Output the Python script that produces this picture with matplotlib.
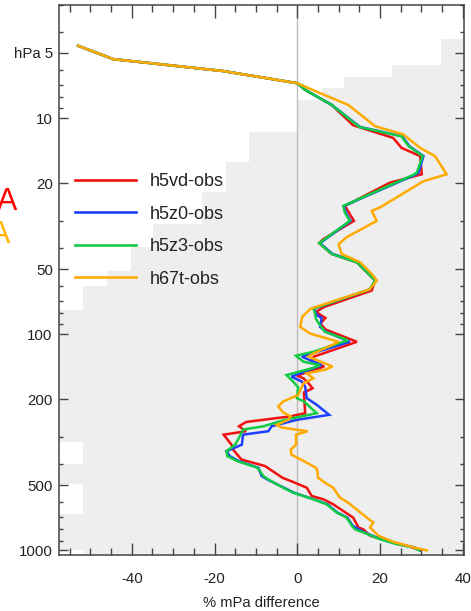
import numpy as np
import matplotlib
matplotlib.use("Agg")
import matplotlib.pyplot as plt
from matplotlib.ticker import FixedLocator, FixedFormatter, LogLocator, NullFormatter, MultipleLocator

plt.rcParams["font.family"] = ["Liberation Sans", "DejaVu Sans"]
plt.rcParams["axes.unicode_minus"] = False

# ---- profile data: pressure (hPa) and percent difference ----
top_p = [4.63, 5.34, 6.06, 6.9]
top_dx = [-53.0, -44.5, -18.0, 0.0]

h5vd_p = [7.41, 8.69, 10.8, 12.36, 13.74, 15.0, 18.2, 19.9, 25.5, 29.9, 36.3, 37.9,
          42.5, 46.5, 52.6, 56.4, 62.8, 74.8, 78.9, 84.1, 89.3, 95.0, 108.4, 127.0,
          133.0, 141.0, 155.4, 159.9, 168.6, 177.8, 186.0, 231.9, 240.0, 254.7, 266.6,
          281.0, 291.5, 324.3, 342.0, 380.0, 407.0, 461.0, 486.0, 513.0, 560.0, 580.0,
          612.0, 657.0, 705.0, 783.0, 800.0, 855.0, 902.0, 951.0, 1000.0]
h5vd_dx = [1.9, 8.3, 13.5, 23.2, 25.2, 29.7, 30.1, 22.4, 11.5, 13.7, 6.3, 5.3,
           8.3, 14.4, 17.2, 18.8, 18.0, 6.5, 4.5, 6.8, 5.6, 6.8, 14.4, 4.0,
           3.5, 6.5, -0.1, 1.5, 2.7, 3.7, 1.6, 1.9, -1.8, -12.4, -14.1,
           -12.4, -17.8, -15.9, -15.5, -13.5, -7.8, -3.6, -0.6, 2.3, 3.5, 6.3,
           8.7, 11.1, 13.5, 14.8, 16.0, 17.6, 21.6, 26.5, 29.9]

h5z0_p = [7.41, 8.69, 11.0, 12.15, 13.5, 15.0, 17.9, 18.3, 25.5, 27.4, 29.9, 37.9,
          42.5, 46.5, 52.6, 56.4, 62.0, 76.2, 81.8, 84.1, 92.5, 97.5, 108.4, 127.0,
          139.0, 157.0, 165.6, 174.6, 197.6, 212.0, 236.0, 248.9, 266.6, 281.0, 291.5,
          324.3, 347.6, 366.4, 386.4, 414.6, 453.0, 470.0, 513.0, 541.0, 580.0, 612.0,
          668.0, 705.0, 769.0, 826.0, 887.0, 935.0, 968.0, 1000.0]
h5z0_dx = [1.9, 8.3, 15.2, 25.4, 27.1, 30.5, 29.3, 28.5, 11.3, 11.7, 12.9, 5.5,
           8.5, 14.6, 17.4, 18.9, 17.6, 4.0, 4.8, 5.9, 5.5, 7.0, 12.7, 1.1,
           5.9, -1.4, 1.1, 1.9, 2.3, 4.7, 7.7, -0.1, -6.2, -7.0, -13.1,
           -13.4, -17.1, -16.3, -14.1, -9.4, -8.6, -7.2, -3.2, -0.8, 4.0, 7.3,
           9.7, 12.1, 13.4, 16.2, 20.2, 24.2, 28.3, 29.7]

h5z3_p = [7.41, 8.69, 11.0, 12.15, 13.5, 15.0, 17.9, 18.3, 25.5, 27.4, 29.9, 37.9,
          42.5, 46.5, 52.6, 56.4, 62.0, 76.2, 78.9, 85.0, 90.9, 97.5, 106.6, 120.5,
          125.7, 134.0, 139.0, 143.0, 154.5, 165.6, 176.0, 197.6, 204.0, 231.9, 248.9,
          266.6, 276.0, 296.5, 324.0, 347.6, 366.4, 386.4, 414.6, 453.0, 470.0, 513.0,
          541.0, 550.0, 580.0, 612.0, 668.0, 705.0, 769.0, 800.0, 826.0, 887.0, 935.0,
          968.0, 1000.0]
h5z3_dx = [1.9, 8.3, 15.0, 25.2, 26.9, 30.3, 28.9, 28.1, 11.1, 11.5, 12.7, 5.3,
           8.3, 14.4, 17.2, 18.8, 17.5, 3.9, 4.2, 4.5, 5.5, 6.7, 12.3, 3.9,
           -0.3, 1.5, 5.5, 3.9, -2.6, -1.0, 0.2, -0.1, 1.5, 4.7, -3.0,
           -8.2, -13.1, -13.9, -15.0, -17.1, -16.9, -14.5, -9.6, -8.2, -7.0, -3.4,
           -1.0, 0.2, 3.9, 7.1, 9.5, 11.9, 13.2, 14.0, 16.0, 20.0, 24.0,
           28.1, 29.5]

h67t_p = [7.67, 8.69, 10.9, 11.9, 13.74, 15.0, 18.2, 19.6, 25.9, 26.9, 29.9, 35.6,
          38.3, 42.5, 46.5, 52.6, 56.4, 62.0, 76.2, 83.2, 92.5, 99.3, 108.4, 122.8,
          127.0, 141.0, 146.0, 151.6, 160.0, 168.6, 190.8, 204.8, 215.9, 230.0, 240.0,
          248.9, 262.5, 270.0, 276.0, 281.0, 291.5, 324.0, 342.0, 360.6, 380.0, 414.6,
          430.0, 461.0, 486.0, 513.0, 570.0, 601.0, 657.0, 705.0, 743.0, 783.0, 855.0,
          913.0, 968.0, 1000.0]
h67t_dx = [5.5, 12.3, 18.8, 25.6, 29.7, 33.3, 36.1, 30.5, 20.0, 18.0, 19.2, 11.9,
           10.0, 10.7, 15.2, 18.0, 19.2, 17.5, 3.2, 1.2, 0.7, 3.1, 10.0, 3.9,
           2.7, 8.5, 6.7, 2.3, 3.9, 1.5, 0.2, -3.4, -4.6, -3.4, -1.6,
           -2.2, -5.0, -3.8, -0.5, 2.5, -0.3, -0.3, -1.6, -1.4, 0.9, 4.5,
           4.9, 5.0, 6.7, 8.7, 10.3, 12.3, 14.8, 16.8, 18.4, 17.6, 19.6,
           23.2, 28.1, 31.3]

series_names = ["h5vd-obs", "h5z0-obs", "h5z3-obs", "h67t-obs"]
series_colors = ["#f01010", "#1f3fff", "#10cc44", "#ffaa00"]
series_p = [h5vd_p, h5z0_p, h5z3_p, h67t_p]
series_dx = [h5vd_dx, h5z0_dx, h5z3_dx, h67t_dx]

# stepped background band: pressure edges and left boundary of the shaded area
band_p = [3.0, 4.32, 5.69, 6.45, 7.26, 8.24, 11.6, 15.9, 21.9, 31.0, 39.5, 50.8,
          59.6, 77.0, 314.0, 398.0, 494.0, 682.0, 1000.0, 1050.0]
band_x = [41.0, 34.7, 22.9, 11.3, 5.9, 0.0, -11.7, -17.2, -23.0, -34.9, -40.3, -46.0,
          -51.9, -60.0, -51.9, -60.0, -51.9, -60.0, -51.9, -51.9]

y_major = [5, 10, 20, 50, 100, 200, 500, 1000]
y_labels = ["hPa 5", "10", "20", "50", "100", "200", "500", "1000"]
x_major = [-40, -20, 0, 20, 40]

fig = plt.figure(figsize=(4.71, 6.11), dpi=100)
ax = fig.add_axes([59 / 471, 56 / 611, 405 / 471, 550 / 611])

ax.fill_betweenx(band_p, band_x, [41.0] * len(band_x), step="post",
                 color="#eeeeee", linewidth=0, zorder=0)
ax.axvline(0, color="#bdbdbd", lw=1.0, zorder=1)

for name, col, p, dx in zip(series_names, series_colors, series_p, series_dx):
    ax.plot(top_dx + dx, top_p + p, color=col, lw=1.8, label=name, zorder=3,
            solid_joinstyle="miter")

ax.set_yscale("log")
ax.set_ylim(1050, 3.0)
ax.set_xlim(-57.6, 40.3)

ax.yaxis.set_major_locator(FixedLocator(y_major))
ax.yaxis.set_major_formatter(FixedFormatter(y_labels))
ax.yaxis.set_minor_locator(LogLocator(base=10, subs=np.arange(2, 10)))
ax.yaxis.set_minor_formatter(NullFormatter())
ax.xaxis.set_major_locator(FixedLocator(x_major))
ax.xaxis.set_minor_locator(MultipleLocator(5))

ax.tick_params(axis="both", which="both", direction="in", top=True, right=True,
               colors="#444444", labelcolor="#222222", width=1.0)
ax.tick_params(axis="x", which="major", length=9, labelsize=10.8, pad=12)
ax.tick_params(axis="x", which="minor", length=5)
ax.tick_params(axis="y", which="major", length=6.5, labelsize=10.8, pad=4.5)
ax.tick_params(axis="y", which="minor", length=3.2)
for s in ax.spines.values():
    s.set_color("#444444")
    s.set_linewidth(1.1)

ax.set_xlabel("% mPa difference", fontsize=10.6, color="#222222", labelpad=7.5)

leg = fig.legend(loc="upper left", bbox_to_anchor=(75 / 471, 1 - 173 / 611),
                 frameon=False, fontsize=13, handlelength=3.38, handletextpad=0.78,
                 labelspacing=0.86, borderpad=0, borderaxespad=0)
for t in leg.get_texts():
    t.set_color("#222222")
for h in leg.legend_handles:
    h.set_linewidth(1.9)

fig.text(-3.5 / 471, 1 - 210 / 611, "A", color="#ff0000", fontsize=22, ha="left", va="baseline")
fig.text(-10.5 / 471, 1 - 243 / 611, "A", color="#ffb300", fontsize=22, ha="left", va="baseline")

fig.savefig("out.png", dpi=100)
